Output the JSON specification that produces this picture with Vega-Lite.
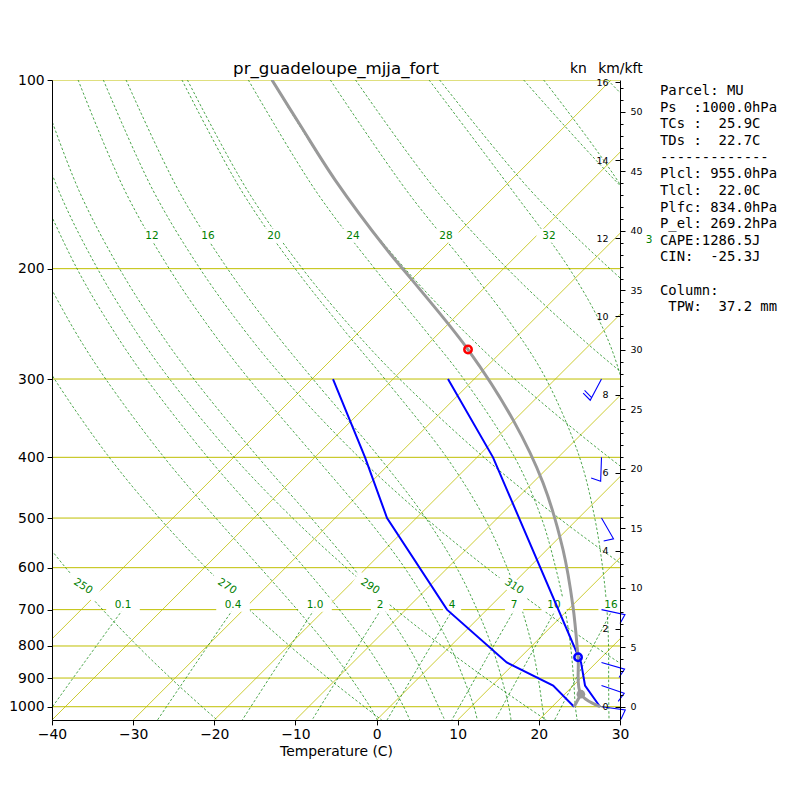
{
  "$schema": "https://vega.github.io/schema/vega-lite/v6.json",
  "width": 568,
  "height": 640,
  "autosize": "none",
  "padding": {"left": 52, "top": 80, "right": 180, "bottom": 80},
  "background": "white",
  "config": {"view": {"stroke": null}, "font": "DejaVu Sans"},
  "title": {"text": "pr_guadeloupe_mjja_fort", "font": "DejaVu Sans", "fontSize": 16.67, "fontWeight": "normal", "color": "black", "anchor": "middle", "frame": "group", "offset": 6, "dy": 23},
  "datasets": {
    "isobars": [{"p": 100, "x": -40, "x2": 30}, {"p": 200, "x": -40, "x2": 30}, {"p": 300, "x": -40, "x2": 30}, {"p": 400, "x": -40, "x2": 30}, {"p": 500, "x": -40, "x2": 30}, {"p": 600, "x": -40, "x2": 30}, {"p": 700, "x": -40, "x2": 30}, {"p": 800, "x": -40, "x2": 30}, {"p": 900, "x": -40, "x2": 30}, {"p": 1000, "x": -40, "x2": 30}],
    "isotherms": [{"x": -50, "xt": 28.907, "p": 1050, "p2": 100}, {"x": -40, "xt": 38.907, "p": 1050, "p2": 100}, {"x": -30, "xt": 48.907, "p": 1050, "p2": 100}, {"x": -20, "xt": 58.907, "p": 1050, "p2": 100}, {"x": -10, "xt": 68.907, "p": 1050, "p2": 100}, {"x": 0, "xt": 78.907, "p": 1050, "p2": 100}, {"x": 10, "xt": 88.907, "p": 1050, "p2": 100}, {"x": 20, "xt": 98.907, "p": 1050, "p2": 100}],
    "dry": [
      {"g": "d250", "p": 1050, "x": -19.64}, {"g": "d250", "p": 1000, "x": -21.51}, {"g": "d250", "p": 900, "x": -25.39}, {"g": "d250", "p": 800, "x": -29.46}, {"g": "d250", "p": 700, "x": -33.76}, {"g": "d250", "p": 600, "x": -38.32}, {"g": "d250", "p": 500, "x": -43.17},
      {"g": "d270", "p": 1050, "x": 0.64}, {"g": "d270", "p": 1000, "x": -1.51}, {"g": "d270", "p": 900, "x": -5.99}, {"g": "d270", "p": 800, "x": -10.70}, {"g": "d270", "p": 700, "x": -15.70}, {"g": "d270", "p": 600, "x": -21.03}, {"g": "d270", "p": 500, "x": -26.76}, {"g": "d270", "p": 400, "x": -32.95}, {"g": "d270", "p": 300, "x": -39.69}, {"g": "d270", "p": 250, "x": -43.29},
      {"g": "d290", "p": 1050, "x": 20.92}, {"g": "d290", "p": 1000, "x": 18.49}, {"g": "d290", "p": 900, "x": 13.42}, {"g": "d290", "p": 800, "x": 8.07}, {"g": "d290", "p": 700, "x": 2.36}, {"g": "d290", "p": 600, "x": -3.75}, {"g": "d290", "p": 500, "x": -10.35}, {"g": "d290", "p": 400, "x": -17.56}, {"g": "d290", "p": 300, "x": -25.51}, {"g": "d290", "p": 250, "x": -29.83}, {"g": "d290", "p": 200, "x": -34.39}, {"g": "d290", "p": 150, "x": -39.19}, {"g": "d290", "p": 100, "x": -44.03},
      {"g": "d310", "p": 1050, "x": 41.20}, {"g": "d310", "p": 1000, "x": 38.49}, {"g": "d310", "p": 900, "x": 32.83}, {"g": "d310", "p": 800, "x": 26.83}, {"g": "d310", "p": 700, "x": 20.42}, {"g": "d310", "p": 600, "x": 13.54}, {"g": "d310", "p": 500, "x": 6.06}, {"g": "d310", "p": 400, "x": -2.16}, {"g": "d310", "p": 300, "x": -11.34}, {"g": "d310", "p": 250, "x": -16.37}, {"g": "d310", "p": 200, "x": -21.76}, {"g": "d310", "p": 150, "x": -27.55}, {"g": "d310", "p": 100, "x": -33.67},
      {"g": "d330", "p": 900, "x": 52.23}, {"g": "d330", "p": 800, "x": 45.60}, {"g": "d330", "p": 700, "x": 38.48}, {"g": "d330", "p": 600, "x": 30.82}, {"g": "d330", "p": 500, "x": 22.46}, {"g": "d330", "p": 400, "x": 13.23}, {"g": "d330", "p": 300, "x": 2.84}, {"g": "d330", "p": 250, "x": -2.91}, {"g": "d330", "p": 200, "x": -9.14}, {"g": "d330", "p": 150, "x": -15.92}, {"g": "d330", "p": 100, "x": -23.31},
      {"g": "d350", "p": 600, "x": 48.10}, {"g": "d350", "p": 500, "x": 38.87}, {"g": "d350", "p": 400, "x": 28.63}, {"g": "d350", "p": 300, "x": 17.02}, {"g": "d350", "p": 250, "x": 10.55}, {"g": "d350", "p": 200, "x": 3.50}, {"g": "d350", "p": 150, "x": -4.29}, {"g": "d350", "p": 100, "x": -12.95},
      {"g": "d370", "p": 400, "x": 44.02}, {"g": "d370", "p": 300, "x": 31.20}, {"g": "d370", "p": 250, "x": 24.01}, {"g": "d370", "p": 200, "x": 16.12}, {"g": "d370", "p": 150, "x": 7.34}, {"g": "d370", "p": 100, "x": -2.59},
      {"g": "d390", "p": 300, "x": 45.38}, {"g": "d390", "p": 250, "x": 37.47}, {"g": "d390", "p": 200, "x": 28.75}, {"g": "d390", "p": 150, "x": 18.97}, {"g": "d390", "p": 100, "x": 7.77},
      {"g": "d410", "p": 250, "x": 50.93}, {"g": "d410", "p": 200, "x": 41.38}, {"g": "d410", "p": 150, "x": 30.61}, {"g": "d410", "p": 100, "x": 18.13},
      {"g": "d430", "p": 200, "x": 54.01}, {"g": "d430", "p": 150, "x": 42.24}, {"g": "d430", "p": 100, "x": 28.49}
    ],
    "moist": [
      {"g": "m0", "p": 1050, "x": 0.1}, {"g": "m0", "p": 1000, "x": -0.81}, {"g": "m0", "p": 900, "x": -3.15}, {"g": "m0", "p": 800, "x": -6.05}, {"g": "m0", "p": 700, "x": -9.78}, {"g": "m0", "p": 600, "x": -14.34}, {"g": "m0", "p": 500, "x": -19.81}, {"g": "m0", "p": 400, "x": -26.19}, {"g": "m0", "p": 300, "x": -33.38}, {"g": "m0", "p": 250, "x": -37.30}, {"g": "m0", "p": 200, "x": -41.40},
      {"g": "m4", "p": 1050, "x": 4.1}, {"g": "m4", "p": 1000, "x": 3.34}, {"g": "m4", "p": 900, "x": 1.34}, {"g": "m4", "p": 800, "x": -1.19}, {"g": "m4", "p": 700, "x": -4.59}, {"g": "m4", "p": 600, "x": -8.89}, {"g": "m4", "p": 500, "x": -14.28}, {"g": "m4", "p": 400, "x": -20.81}, {"g": "m4", "p": 300, "x": -28.36}, {"g": "m4", "p": 250, "x": -32.52}, {"g": "m4", "p": 200, "x": -36.92}, {"g": "m4", "p": 150, "x": -41.51},
      {"g": "m8", "p": 1050, "x": 8.4}, {"g": "m8", "p": 1000, "x": 7.64}, {"g": "m8", "p": 900, "x": 6.00}, {"g": "m8", "p": 800, "x": 3.89}, {"g": "m8", "p": 700, "x": 0.95}, {"g": "m8", "p": 600, "x": -2.91}, {"g": "m8", "p": 500, "x": -8.05}, {"g": "m8", "p": 400, "x": -14.60}, {"g": "m8", "p": 300, "x": -22.52}, {"g": "m8", "p": 250, "x": -26.94}, {"g": "m8", "p": 200, "x": -31.68}, {"g": "m8", "p": 150, "x": -36.69}, {"g": "m8", "p": 100, "x": -41.80},
      {"g": "m12", "p": 1050, "x": 12.42}, {"g": "m12", "p": 1000, "x": 12.00}, {"g": "m12", "p": 900, "x": 10.71}, {"g": "m12", "p": 800, "x": 9.06}, {"g": "m12", "p": 700, "x": 6.66}, {"g": "m12", "p": 600, "x": 3.45}, {"g": "m12", "p": 500, "x": -1.19}, {"g": "m12", "p": 400, "x": -7.52}, {"g": "m12", "p": 300, "x": -15.73}, {"g": "m12", "p": 250, "x": -20.45}, {"g": "m12", "p": 200, "x": -25.55}, {"g": "m12", "p": 150, "x": -31.04}, {"g": "m12", "p": 100, "x": -36.78},
      {"g": "m16", "p": 1050, "x": 16.57}, {"g": "m16", "p": 1000, "x": 16.30}, {"g": "m16", "p": 900, "x": 15.40}, {"g": "m16", "p": 800, "x": 14.19}, {"g": "m16", "p": 700, "x": 12.39}, {"g": "m16", "p": 600, "x": 9.87}, {"g": "m16", "p": 500, "x": 6.06}, {"g": "m16", "p": 400, "x": 0.33}, {"g": "m16", "p": 300, "x": -7.85}, {"g": "m16", "p": 250, "x": -12.85}, {"g": "m16", "p": 200, "x": -18.37}, {"g": "m16", "p": 150, "x": -24.41}, {"g": "m16", "p": 100, "x": -30.87},
      {"g": "m20", "p": 1050, "x": 20.68}, {"g": "m20", "p": 1000, "x": 20.43}, {"g": "m20", "p": 900, "x": 19.92}, {"g": "m20", "p": 800, "x": 19.15}, {"g": "m20", "p": 700, "x": 17.92}, {"g": "m20", "p": 600, "x": 16.09}, {"g": "m20", "p": 500, "x": 13.29}, {"g": "m20", "p": 400, "x": 8.63}, {"g": "m20", "p": 300, "x": 1.02}, {"g": "m20", "p": 250, "x": -4.09}, {"g": "m20", "p": 200, "x": -10.03}, {"g": "m20", "p": 150, "x": -16.68}, {"g": "m20", "p": 100, "x": -23.98},
      {"g": "m24", "p": 1050, "x": 24.72}, {"g": "m24", "p": 1000, "x": 24.50}, {"g": "m24", "p": 900, "x": 24.27}, {"g": "m24", "p": 800, "x": 23.91}, {"g": "m24", "p": 700, "x": 23.22}, {"g": "m24", "p": 600, "x": 22.07}, {"g": "m24", "p": 500, "x": 20.32}, {"g": "m24", "p": 400, "x": 17.02}, {"g": "m24", "p": 300, "x": 10.74}, {"g": "m24", "p": 250, "x": 5.89}, {"g": "m24", "p": 200, "x": -0.23}, {"g": "m24", "p": 150, "x": -7.54}, {"g": "m24", "p": 100, "x": -15.80},
      {"g": "m28", "p": 1050, "x": 28.65}, {"g": "m28", "p": 1000, "x": 28.62}, {"g": "m28", "p": 900, "x": 28.60}, {"g": "m28", "p": 800, "x": 28.59}, {"g": "m28", "p": 700, "x": 28.39}, {"g": "m28", "p": 600, "x": 27.86}, {"g": "m28", "p": 500, "x": 26.89}, {"g": "m28", "p": 400, "x": 25.02}, {"g": "m28", "p": 300, "x": 20.89}, {"g": "m28", "p": 250, "x": 17.05}, {"g": "m28", "p": 200, "x": 11.38}, {"g": "m28", "p": 150, "x": 3.68}, {"g": "m28", "p": 100, "x": -5.70},
      {"g": "m32", "p": 1050, "x": 32.51}, {"g": "m32", "p": 1000, "x": 32.66}, {"g": "m32", "p": 900, "x": 32.77}, {"g": "m32", "p": 800, "x": 33.00}, {"g": "m32", "p": 700, "x": 33.19}, {"g": "m32", "p": 600, "x": 33.20}, {"g": "m32", "p": 500, "x": 32.93}, {"g": "m32", "p": 400, "x": 32.38}, {"g": "m32", "p": 300, "x": 30.18}, {"g": "m32", "p": 250, "x": 27.96}, {"g": "m32", "p": 200, "x": 23.76}, {"g": "m32", "p": 150, "x": 16.72}, {"g": "m32", "p": 100, "x": 6.47},
      {"g": "m36", "p": 1050, "x": 36.27}, {"g": "m36", "p": 1000, "x": 36.58}, {"g": "m36", "p": 900, "x": 36.74}, {"g": "m36", "p": 800, "x": 37.11}, {"g": "m36", "p": 700, "x": 37.57}, {"g": "m36", "p": 600, "x": 37.99}, {"g": "m36", "p": 500, "x": 38.30}, {"g": "m36", "p": 400, "x": 38.51}, {"g": "m36", "p": 300, "x": 38.09}, {"g": "m36", "p": 250, "x": 37.22}, {"g": "m36", "p": 200, "x": 35.19}, {"g": "m36", "p": 150, "x": 30.46}, {"g": "m36", "p": 100, "x": 20.59}
    ],
    "mixing": [
      {"g": "w0.1", "p": 1050, "x": -41.11}, {"g": "w0.1", "p": 900, "x": -37.40}, {"g": "w0.1", "p": 800, "x": -34.54}, {"g": "w0.1", "p": 700, "x": -31.29},
      {"g": "w0.4", "p": 1050, "x": -27.00}, {"g": "w0.4", "p": 900, "x": -23.49}, {"g": "w0.4", "p": 800, "x": -20.80}, {"g": "w0.4", "p": 700, "x": -17.72},
      {"g": "w1", "p": 1050, "x": -16.55}, {"g": "w1", "p": 900, "x": -13.21}, {"g": "w1", "p": 800, "x": -10.63}, {"g": "w1", "p": 700, "x": -7.69},
      {"g": "w2", "p": 1050, "x": -7.95}, {"g": "w2", "p": 900, "x": -4.75}, {"g": "w2", "p": 800, "x": -2.28}, {"g": "w2", "p": 700, "x": 0.54},
      {"g": "w4", "p": 1050, "x": 1.29}, {"g": "w4", "p": 900, "x": 4.34}, {"g": "w4", "p": 800, "x": 6.69}, {"g": "w4", "p": 700, "x": 9.38},
      {"g": "w7", "p": 1050, "x": 9.27}, {"g": "w7", "p": 900, "x": 12.18}, {"g": "w7", "p": 800, "x": 14.42}, {"g": "w7", "p": 700, "x": 17.00},
      {"g": "w10", "p": 1050, "x": 14.61}, {"g": "w10", "p": 900, "x": 17.42}, {"g": "w10", "p": 800, "x": 19.59}, {"g": "w10", "p": 700, "x": 22.09},
      {"g": "w16", "p": 1050, "x": 21.94}, {"g": "w16", "p": 900, "x": 24.61}, {"g": "w16", "p": 800, "x": 26.69}, {"g": "w16", "p": 700, "x": 29.07}
    ],
    "clab": [
      {"label": "0.1", "x": -31.25, "p": 687.6}, {"label": "0.4", "x": -17.69, "p": 687.6}, {"label": "1.0", "x": -7.59, "p": 687.6}, {"label": "2", "x": 0.42, "p": 687.6}, {"label": "4", "x": 9.30, "p": 687.6}, {"label": "7", "x": 16.94, "p": 687.6}, {"label": "10", "x": 21.87, "p": 687.6}, {"label": "16", "x": 28.89, "p": 687.6},
      {"label": "12", "x": -27.68, "p": 177.2}, {"label": "16", "x": -20.77, "p": 177.2}, {"label": "20", "x": -12.64, "p": 177.2}, {"label": "24", "x": -2.90, "p": 177.2}, {"label": "28", "x": 8.56, "p": 177.2}, {"label": "32", "x": 21.25, "p": 177.2}, {"label": "3", "x": 33.58, "p": 180.0}
    ],
    "dlab": [
      {"label": "250", "x": -36.18, "p": 642.6}, {"label": "270", "x": -18.43, "p": 642.6}, {"label": "290", "x": -0.81, "p": 642.6}, {"label": "310", "x": 16.94, "p": 642.6}
    ],
    "temp": [{"p": 300, "x": 8.80}, {"p": 400, "x": 14.35}, {"p": 850, "x": 25.20}, {"p": 925, "x": 25.69}, {"p": 1000, "x": 27.54}],
    "dew": [{"p": 300, "x": -5.37}, {"p": 400, "x": -1.42}, {"p": 500, "x": 1.29}, {"p": 700, "x": 8.68}, {"p": 850, "x": 16.04}, {"p": 925, "x": 21.76}, {"p": 1000, "x": 24.34}],
    "parcel": [
      {"g": "a", "p": 100, "x": -12.89}, {"g": "a", "p": 117.9, "x": -9.44}, {"g": "a", "p": 144.3, "x": -5.12}, {"g": "a", "p": 186.7, "x": 1.29}, {"g": "a", "p": 208.4, "x": 4.37}, {"g": "a", "p": 269.2, "x": 11.27}, {"g": "a", "p": 348.6, "x": 16.82}, {"g": "a", "p": 439.2, "x": 20.51}, {"g": "a", "p": 561.7, "x": 22.98}, {"g": "a", "p": 692.7, "x": 24.21}, {"g": "a", "p": 834, "x": 24.83}, {"g": "a", "p": 955, "x": 25.18}, {"g": "a", "p": 1000, "x": 27.54},
      {"g": "b", "p": 955, "x": 25.18}, {"g": "b", "p": 1000, "x": 24.34}
    ],
    "barbs": [
      {"p": 300, "x": 27.72, "dir": 208, "k": "f20"}, {"p": 400, "x": 27.72, "dir": 182, "k": "f10"}, {"p": 500, "x": 27.72, "dir": 150, "k": "f10"}, {"p": 700, "x": 27.72, "dir": 102, "k": "f10"}, {"p": 850, "x": 27.72, "dir": 106, "k": "f10"}, {"p": 925, "x": 27.72, "dir": 109, "k": "f10"}, {"p": 1000, "x": 27.72, "dir": 98, "k": "f10"}
    ],
    "info": [
      {"x": 34.93, "p": 101.48, "t": "Parcel:\u00a0MU\nPs\u00a0\u00a0:1000.0hPa\nTCs\u00a0:\u00a0\u00a025.9C\nTDs\u00a0:\u00a0\u00a022.7C\n-------------\nPlcl:\u00a0955.0hPa\nTlcl:\u00a0\u00a022.0C\nPlfc:\u00a0834.0hPa\nP_el:\u00a0269.2hPa\nCAPE:1286.5J\nCIN:\u00a0\u00a0-25.3J"},
      {"x": 34.93, "p": 211.4, "t": "Column:\n\u200b\u00a0TPW:\u00a0\u00a037.2\u00a0mm"}
    ]
  },
  "layer": [
    {
      "encoding": {
        "x": {"field": "x", "type": "quantitative", "scale": {"domain": [-40, 30], "nice": false, "zero": false},
          "axis": {"values": [-40, -30, -20, -10, 0, 10, 20, 30], "format": "d", "title": "Temperature (C)", "grid": false, "labelFont": "DejaVu Sans", "labelFontSize": 13.9, "labelColor": "black", "tickColor": "black", "tickSize": 4.9, "labelPadding": 3, "domainColor": "black", "titleFont": "DejaVu Sans", "titleFontSize": 13.9, "titleFontWeight": "normal", "titleColor": "black", "titlePadding": 3, "labelFlush": false, "labelOverlap": false, "zindex": 1}},
        "y": {"field": "p", "type": "quantitative", "scale": {"type": "log", "domain": [100, 1050], "reverse": true, "nice": false},
          "axis": {"values": [100, 200, 300, 400, 500, 600, 700, 800, 900, 1000], "format": "d", "title": null, "grid": false, "labelFont": "DejaVu Sans", "labelFontSize": 13.9, "labelColor": "black", "tickColor": "black", "tickSize": 4.9, "labelPadding": 3, "domainColor": "black", "labelFlush": false, "labelOverlap": false, "labelBaseline": "middle", "zindex": 1}}
      },
      "resolve": {"scale": {"shape": "independent"}},
      "layer": [
        {"data": {"name": "isobars"}, "mark": {"type": "rule", "color": "#BFBF00", "strokeWidth": 1.0, "clip": true},
          "encoding": {"x2": {"field": "x2"}}},
        {"data": {"name": "isotherms"}, "mark": {"type": "rule", "color": "#BFBF00", "strokeWidth": 0.8, "clip": true},
          "encoding": {"x2": {"field": "xt"}, "y2": {"field": "p2"}}},
        {"data": {"name": "dry"}, "mark": {"type": "line", "color": "#008000", "strokeWidth": 0.7, "strokeDash": [2.5, 2], "interpolate": "catmull-rom", "clip": true},
          "encoding": {"detail": {"field": "g"}, "order": {"field": "p", "type": "quantitative"}}},
        {"data": {"name": "moist"}, "mark": {"type": "line", "color": "#008000", "strokeWidth": 0.7, "strokeDash": [2.5, 2], "interpolate": "catmull-rom", "clip": true},
          "encoding": {"detail": {"field": "g"}, "order": {"field": "p", "type": "quantitative"}}},
        {"data": {"name": "mixing"}, "mark": {"type": "line", "color": "#008000", "strokeWidth": 0.7, "strokeDash": [2.5, 2], "interpolate": "catmull-rom", "clip": true},
          "encoding": {"detail": {"field": "g"}, "order": {"field": "p", "type": "quantitative"}}},
        {"data": {"name": "clab"}, "transform": [{"filter": "datum.label != '3'"}],
          "mark": {"type": "point", "filled": true, "fill": "white", "stroke": null, "opacity": 1, "size": 784, "clip": false},
          "encoding": {"shape": {"field": "label", "type": "nominal", "legend": null,
            "scale": {"domain": ["0.1", "0.4", "1.0", "2", "4", "7", "10", "16", "12", "20", "24", "28", "32"],
              "range": ["M-1.2,-0.5L1.2,-0.5L1.2,0.5L-1.2,0.5Z", "M-1.2,-0.5L1.2,-0.5L1.2,0.5L-1.2,0.5Z", "M-1.2,-0.5L1.2,-0.5L1.2,0.5L-1.2,0.5Z", "M-0.65,-0.5L0.65,-0.5L0.65,0.5L-0.65,0.5Z", "M-0.65,-0.5L0.65,-0.5L0.65,0.5L-0.65,0.5Z", "M-0.65,-0.5L0.65,-0.5L0.65,0.5L-0.65,0.5Z", "M-0.9,-0.5L0.9,-0.5L0.9,0.5L-0.9,0.5Z", "M-0.9,-0.5L0.9,-0.5L0.9,0.5L-0.9,0.5Z", "M-0.9,-0.5L0.9,-0.5L0.9,0.5L-0.9,0.5Z", "M-0.9,-0.5L0.9,-0.5L0.9,0.5L-0.9,0.5Z", "M-0.9,-0.5L0.9,-0.5L0.9,0.5L-0.9,0.5Z", "M-0.9,-0.5L0.9,-0.5L0.9,0.5L-0.9,0.5Z", "M-0.9,-0.5L0.9,-0.5L0.9,0.5L-0.9,0.5Z"]}}}},
        {"data": {"name": "dlab"},
          "mark": {"type": "point", "filled": true, "fill": "white", "stroke": null, "opacity": 1, "size": 784, "angle": 33, "shape": "M-1.2,-0.5L1.2,-0.5L1.2,0.5L-1.2,0.5Z", "clip": false}},
        {"data": {"name": "clab"}, "mark": {"type": "text", "font": "DejaVu Sans", "fontSize": 10.5, "color": "#008000", "align": "center", "baseline": "middle", "clip": false},
          "encoding": {"text": {"field": "label"}}},
        {"data": {"name": "dlab"}, "mark": {"type": "text", "font": "DejaVu Sans", "fontSize": 10.5, "color": "#008000", "align": "center", "baseline": "middle", "angle": 33, "clip": false},
          "encoding": {"text": {"field": "label"}}},
        {"data": {"name": "temp"}, "mark": {"type": "line", "color": "#0000ff", "strokeWidth": 2, "clip": true},
          "encoding": {"order": {"field": "p", "type": "quantitative"}}},
        {"data": {"name": "dew"}, "mark": {"type": "line", "color": "#0000ff", "strokeWidth": 2, "clip": true},
          "encoding": {"order": {"field": "p", "type": "quantitative"}}},
        {"data": {"name": "parcel"}, "mark": {"type": "line", "color": "#999999", "strokeWidth": 3, "interpolate": "catmull-rom", "clip": true},
          "encoding": {"detail": {"field": "g"}, "order": {"field": "p", "type": "quantitative"}}},
        {"data": {"values": [{"p": 955, "x": 25.18}]}, "mark": {"type": "circle", "color": "#999999", "opacity": 1, "size": 75}},
        {"data": {"values": [{"p": 834, "x": 24.83}]}, "mark": {"type": "point", "shape": "circle", "filled": false, "stroke": "#0000ff", "strokeWidth": 2.5, "opacity": 1, "size": 55}},
        {"data": {"values": [{"p": 269.2, "x": 11.27}]}, "mark": {"type": "point", "shape": "circle", "filled": false, "stroke": "#ff0000", "strokeWidth": 2.5, "opacity": 1, "size": 55}},
        {"data": {"name": "barbs"}, "mark": {"type": "point", "filled": false, "stroke": "#0000ff", "strokeWidth": 1.1, "opacity": 1, "size": 2304, "clip": false},
          "encoding": {
            "angle": {"field": "dir", "type": "quantitative", "scale": null},
            "shape": {"field": "k", "type": "nominal", "legend": null,
              "scale": {"domain": ["h5", "f10", "f15", "f20"],
                "range": ["M0,0L0,-1M0,-0.875L0.2,-0.8125", "M0,0L0,-1L0.4,-0.875", "M0,0L0,-1L0.4,-0.875M0,-0.875L0.2,-0.8125", "M0,0L0,-1L0.4,-0.875M0,-0.875L0.4,-0.75"]}}}},
        {"data": {"name": "info"},
          "mark": {"type": "text", "font": "DejaVu Sans Mono", "fontSize": 13.9, "align": "left", "baseline": "top", "lineHeight": 16.65, "lineBreak": "\n", "color": "black", "clip": false},
          "encoding": {"text": {"field": "t"}}}
      ]
    },
    {
      "data": {"values": [{"km": 0}]},
      "mark": {"type": "rule", "opacity": 0},
      "encoding": {"y": {"field": "km", "type": "quantitative", "scale": {"domain": [-0.333, 16.056], "nice": false, "zero": false},
        "axis": {"orient": "right", "values": [0, 2, 4, 6, 8, 10, 12, 14, 16], "format": "d", "title": "km/kft", "titleAngle": 0, "titleX": 0, "titleY": -12, "titleAlign": "center", "titleBaseline": "middle", "titleFont": "DejaVu Sans", "titleFontSize": 13.9, "titleFontWeight": "normal", "titleColor": "black", "tickSize": -5, "labelPadding": -7, "labelAlign": "right", "labelFont": "DejaVu Sans", "labelFontSize": 9.5, "labelColor": "black", "tickColor": "black", "domainColor": "black", "grid": false, "labelFlush": false, "labelOverlap": false, "labelBaseline": "middle", "zindex": 1}}}
    },
    {
      "data": {"values": [{"kft": 0}]},
      "mark": {"type": "rule", "opacity": 0},
      "encoding": {"y": {"field": "kft", "type": "quantitative", "scale": {"domain": [-1.0925, 52.677], "nice": false, "zero": false},
        "axis": {"orient": "right", "values": [0, 5, 10, 15, 20, 25, 30, 35, 40, 45, 50], "format": "d", "title": "kn", "titleAngle": 0, "titleX": -42, "titleY": -12, "titleAlign": "center", "titleBaseline": "middle", "titleFont": "DejaVu Sans", "titleFontSize": 13.9, "titleFontWeight": "normal", "titleColor": "black", "tickSize": 5, "labelPadding": 5, "labelAlign": "left", "labelFont": "DejaVu Sans", "labelFontSize": 9.5, "labelColor": "black", "tickColor": "black", "domain": false, "grid": false, "labelFlush": false, "labelOverlap": false, "labelBaseline": "middle", "zindex": 1}}}
    },
    {
      "data": {"values": [{"kft2": 0}]},
      "mark": {"type": "rule", "opacity": 0},
      "encoding": {"y": {"field": "kft2", "type": "quantitative", "scale": {"domain": [-1.0925, 52.677], "nice": false, "zero": false},
        "axis": {"orient": "right", "values": [1, 2, 3, 4, 6, 7, 8, 9, 11, 12, 13, 14, 16, 17, 18, 19, 21, 22, 23, 24, 26, 27, 28, 29, 31, 32, 33, 34, 36, 37, 38, 39, 41, 42, 43, 44, 46, 47, 48, 49, 51, 52], "labels": false, "title": null, "tickSize": 3, "tickColor": "black", "domain": false, "grid": false, "zindex": 1}}}
    }
  ],
  "resolve": {"scale": {"y": "independent"}, "axis": {"y": "independent"}}
}
